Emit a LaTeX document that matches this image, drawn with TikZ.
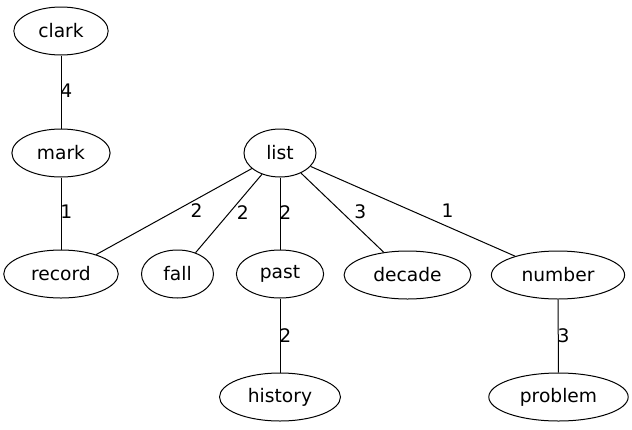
\documentclass[tikz,border=0pt]{standalone}
\usepackage{fontspec}
\setmainfont{DejaVu Sans}
\usetikzlibrary{shapes.geometric}

\tikzset{
	word/.style={ellipse, draw, line width=0.75pt, minimum height=36pt, minimum width=54pt, inner xsep=8pt, font=\fontsize{14}{17}\selectfont},
	wt/.style={midway, inner sep=0pt, font=\fontsize{14}{17}\selectfont},
}

\begin{document}
\begin{tikzpicture}[x=0.75pt, y=-0.75pt, line width=0.75pt]
		\useasboundingbox (0, 0) rectangle (632, 429);

		\node[word] (clark)		at (61, 31)		{clark};
		\node[word] (mark)		at (61, 153)	{mark};
		\node[word] (record)	at (61, 274)	{record};
		\node[word] (list)		at (280, 153)	{list};
		\node[word] (fall)		at (177.5, 274)	{fall};
		\node[word] (past)		at (280, 274)	{past};
		\node[word] (decade)	at (407.5, 275)	{decade};
		\node[word] (number)	at (558, 275)	{number};
		\node[word] (history)	at (280, 397)	{history};
		\node[word] (problem)	at (558.5, 397)	{problem};

		\draw	(clark) -- (mark) node[wt, xshift=4pt, yshift=1pt]{4};
		\draw	(mark) -- (record) node[wt, xshift=4pt, yshift=1pt]{1};

		\draw	(list) -- (record) node[wt, xshift=17pt, yshift=0.5pt]{2};
		\draw	(list) -- (fall) node[wt, xshift=10.5pt, yshift=0.5pt]{2};
		\draw	(list) -- (past) node[wt, xshift=4pt, yshift=0.5pt]{2};
		\draw	(list) -- (decade) node[wt, xshift=13.5pt, yshift=0.5pt]{3};
		\draw	(list) -- (number) node[wt, xshift=26pt, yshift=0.5pt]{1};

		\draw	(past) -- (history) node[wt, xshift=4pt]{2};
		\draw	(number) -- (problem) node[wt, xshift=4pt]{3};
	\end{tikzpicture}
\end{document}
